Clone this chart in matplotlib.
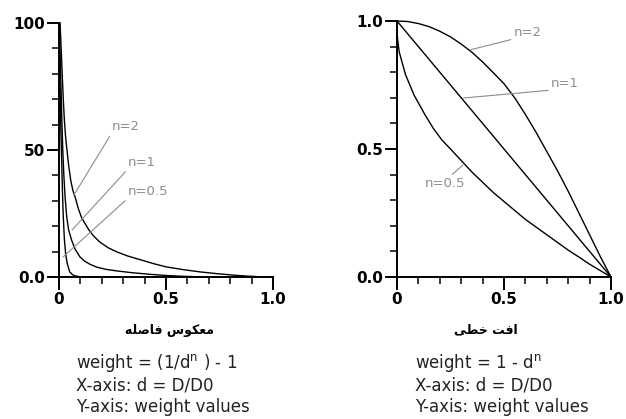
import matplotlib
matplotlib.use('Agg')
import matplotlib.pyplot as plt
from matplotlib.ticker import MultipleLocator

plt.rcParams['font.family'] = ['DejaVu Sans']

# ---- Left panel: inverse distance, weight = (1/d^n) - 1
idw_n2_x = [0.005, 0.01, 0.015, 0.02, 0.025, 0.03, 0.036, 0.045, 0.055, 0.065, 0.075, 0.09,
            0.105, 0.122, 0.14, 0.16, 0.19, 0.23, 0.27, 0.32, 0.38, 0.44, 0.5, 0.58, 0.66,
            0.74, 0.82, 0.88, 0.94]
idw_n2_y = [100, 90, 80, 70, 62, 56, 51, 44, 38, 34, 31.6, 27, 23.5, 21, 18.5, 16.3, 13.8,
            11.5, 9.9, 8.3, 6.8, 5.3, 4.0, 2.9, 2.0, 1.3, 0.7, 0.35, 0.1]
idw_n1_x = [0.002, 0.006, 0.01, 0.014, 0.018, 0.023, 0.028, 0.036, 0.045, 0.059, 0.075, 0.098,
            0.12, 0.145, 0.176, 0.22, 0.27, 0.34, 0.426, 0.5, 0.58, 0.66, 0.74]
idw_n1_y = [100, 85, 73, 60, 49, 39.5, 32, 23.7, 18.5, 14.5, 11, 7.9, 6.2, 5.0, 3.9, 3.0,
            2.4, 1.7, 1.05, 0.6, 0.26, 0.08, 0.0]
idw_n05_x = [0.0, 0.003, 0.006, 0.009, 0.0125, 0.016, 0.02, 0.025, 0.031, 0.038, 0.05, 0.065,
             0.08, 0.098, 0.14, 0.19]
idw_n05_y = [100, 85, 70, 57, 46, 34, 23.7, 15, 9.2, 5.5, 2.0, 0.8, 0.35, 0.1, 0.02, 0.0]

# ---- Right panel: linear decay, weight = 1 - d^n
lin_n2_x = [0.0, 0.05, 0.1, 0.15, 0.2, 0.25, 0.3, 0.35, 0.4, 0.45, 0.5, 0.55, 0.6, 0.65,
            0.7, 0.75, 0.8, 0.85, 0.9, 0.95, 1.0]
lin_n2_y = [1.0, 0.998, 0.99, 0.978, 0.96, 0.938, 0.91, 0.878, 0.84, 0.798, 0.755, 0.70,
            0.635, 0.565, 0.49, 0.415, 0.335, 0.25, 0.165, 0.08, 0.0]
lin_n1_x = [0.0, 0.5, 1.0]
lin_n1_y = [1.0, 0.5, 0.0]
lin_n05_x = [0.0, 0.01, 0.02, 0.04, 0.06, 0.08, 0.1, 0.13, 0.17, 0.21, 0.25, 0.3, 0.35, 0.4,
             0.45, 0.5, 0.55, 0.6, 0.65, 0.7, 0.75, 0.8, 0.85, 0.9, 0.95, 1.0]
lin_n05_y = [0.95, 0.88, 0.85, 0.79, 0.75, 0.71, 0.68, 0.635, 0.58, 0.535, 0.50, 0.455, 0.41,
             0.37, 0.33, 0.295, 0.26, 0.225, 0.195, 0.165, 0.135, 0.105, 0.078, 0.05, 0.025, 0.0]

labels = ['n=2', 'n=1', 'n=0.5']
x_ticks = [0, 0.5, 1.0]
x_ticklabels = ['0', '0.5', '1.0']
left_yticks = [0, 50, 100]
left_yticklabels = ['0.0', '50', '100']
right_yticks = [0, 0.5, 1.0]
right_yticklabels = ['0.0', '0.5', '1.0']

# titles (Persian, shaped presentation forms in right-to-left visual order)
title_left = '\ufeea\ufee0\ufebb\ufe8e\ufed3 \ufeb1\ufeee\ufb91\ufecc\ufee3'   # معکوس فاصله
title_right = '\ufbfd\ufec4\ufea7 \ufe96\ufed3\ufe8d'                      # افت خطی
caption_left = ['weight = (1/d$\\mathregular{^n}$ ) - 1', 'X-axis: d = D/D0', 'Y-axis: weight values']
caption_right = ['weight = 1 - d$\\mathregular{^n}$', 'X-axis: d = D/D0', 'Y-axis: weight values']

W, H = 626, 419
fig = plt.figure(figsize=(W / 100, H / 100), dpi=100)
fig.patch.set_facecolor('white')

axL = fig.add_axes([59 / W, 1 - 277 / H, 214 / W, 254 / H])
axR = fig.add_axes([397 / W, 1 - 277 / H, 214 / W, 256 / H])

def style(ax, ymax, yticks, yticklabels, yminor):
    ax.set_xlim(0, 1)
    ax.set_ylim(0, ymax)
    for s in ['top', 'right']:
        ax.spines[s].set_visible(False)
    for s in ['left', 'bottom']:
        ax.spines[s].set_linewidth(1.4)
        ax.spines[s].set_color('black')
    ax.set_xticks(x_ticks)
    ax.set_xticklabels(x_ticklabels)
    ax.set_yticks(yticks)
    ax.set_yticklabels(yticklabels)
    ax.xaxis.set_minor_locator(MultipleLocator(0.1))
    ax.yaxis.set_minor_locator(MultipleLocator(yminor))
    ax.tick_params(which='major', direction='out', length=9, width=1.4, colors='black',
                   labelsize=11)
    ax.tick_params(which='minor', direction='out', length=5, width=1.1, colors='black')
    ax.tick_params(axis='y', pad=1)
    ax.tick_params(axis='x', pad=1.5)
    for t in ax.get_xticklabels() + ax.get_yticklabels():
        t.set_fontweight('bold')
    ax.set_facecolor('none')

style(axL, 100, left_yticks, left_yticklabels, 10)
style(axR, 1.0, right_yticks, right_yticklabels, 0.1)

lw = 1.0
axL.plot(idw_n2_x, idw_n2_y, color='black', lw=lw, clip_on=False)
axL.plot(idw_n1_x, idw_n1_y, color='black', lw=lw, clip_on=False)
axL.plot(idw_n05_x, idw_n05_y, color='black', lw=lw, clip_on=False)

axR.plot(lin_n2_x, lin_n2_y, color='black', lw=lw, clip_on=False)
axR.plot(lin_n1_x, lin_n1_y, color='black', lw=lw, clip_on=False)
axR.plot(lin_n05_x, lin_n05_y, color='black', lw=lw, clip_on=False)

gray = '#8c8c8c'
ann_kw = dict(color=gray, fontsize=9.5, annotation_clip=False)

def leader(ax, text, xy, xytext, ha, va, relpos):
    ax.annotate(text, xy=xy, xytext=xytext, ha=ha, va=va,
                arrowprops=dict(arrowstyle='-', color=gray, lw=0.8,
                                shrinkA=0, shrinkB=0, relpos=relpos),
                **ann_kw)

leader(axL, labels[0], (0.07, 32.3), (0.245, 56.5), 'left', 'bottom', (0, 0))
leader(axL, labels[1], (0.061, 18.5), (0.322, 42.5), 'left', 'bottom', (0, 0))
leader(axL, labels[2], (0.019, 7.9), (0.322, 31.0), 'left', 'bottom', (0, 0))

leader(axR, labels[0], (0.341, 0.887), (0.545, 0.93), 'left', 'bottom', (0, 0))
leader(axR, labels[1], (0.308, 0.699), (0.72, 0.73), 'left', 'bottom', (0, 0))
leader(axR, labels[2], (0.308, 0.4375), (0.131, 0.39), 'left', 'top', (0.6, 1))

fig.text(170 / W, 1 - 330 / H, title_left, ha='center', va='center',
         fontsize=9, fontweight='bold', color='black')
fig.text(486 / W, 1 - 330 / H, title_right, ha='center', va='center',
         fontsize=9, fontweight='bold', color='black')

cap_color = '#222222'
for i, (a, b) in enumerate(zip(caption_left, caption_right)):
    y = 1 - (363 + 22 * i) / H
    fig.text(76 / W, y, a, ha='left', va='center', fontsize=12, color=cap_color)
    fig.text(415 / W, y, b, ha='left', va='center', fontsize=12, color=cap_color)

fig.savefig('out.png', dpi=100, facecolor='white')
